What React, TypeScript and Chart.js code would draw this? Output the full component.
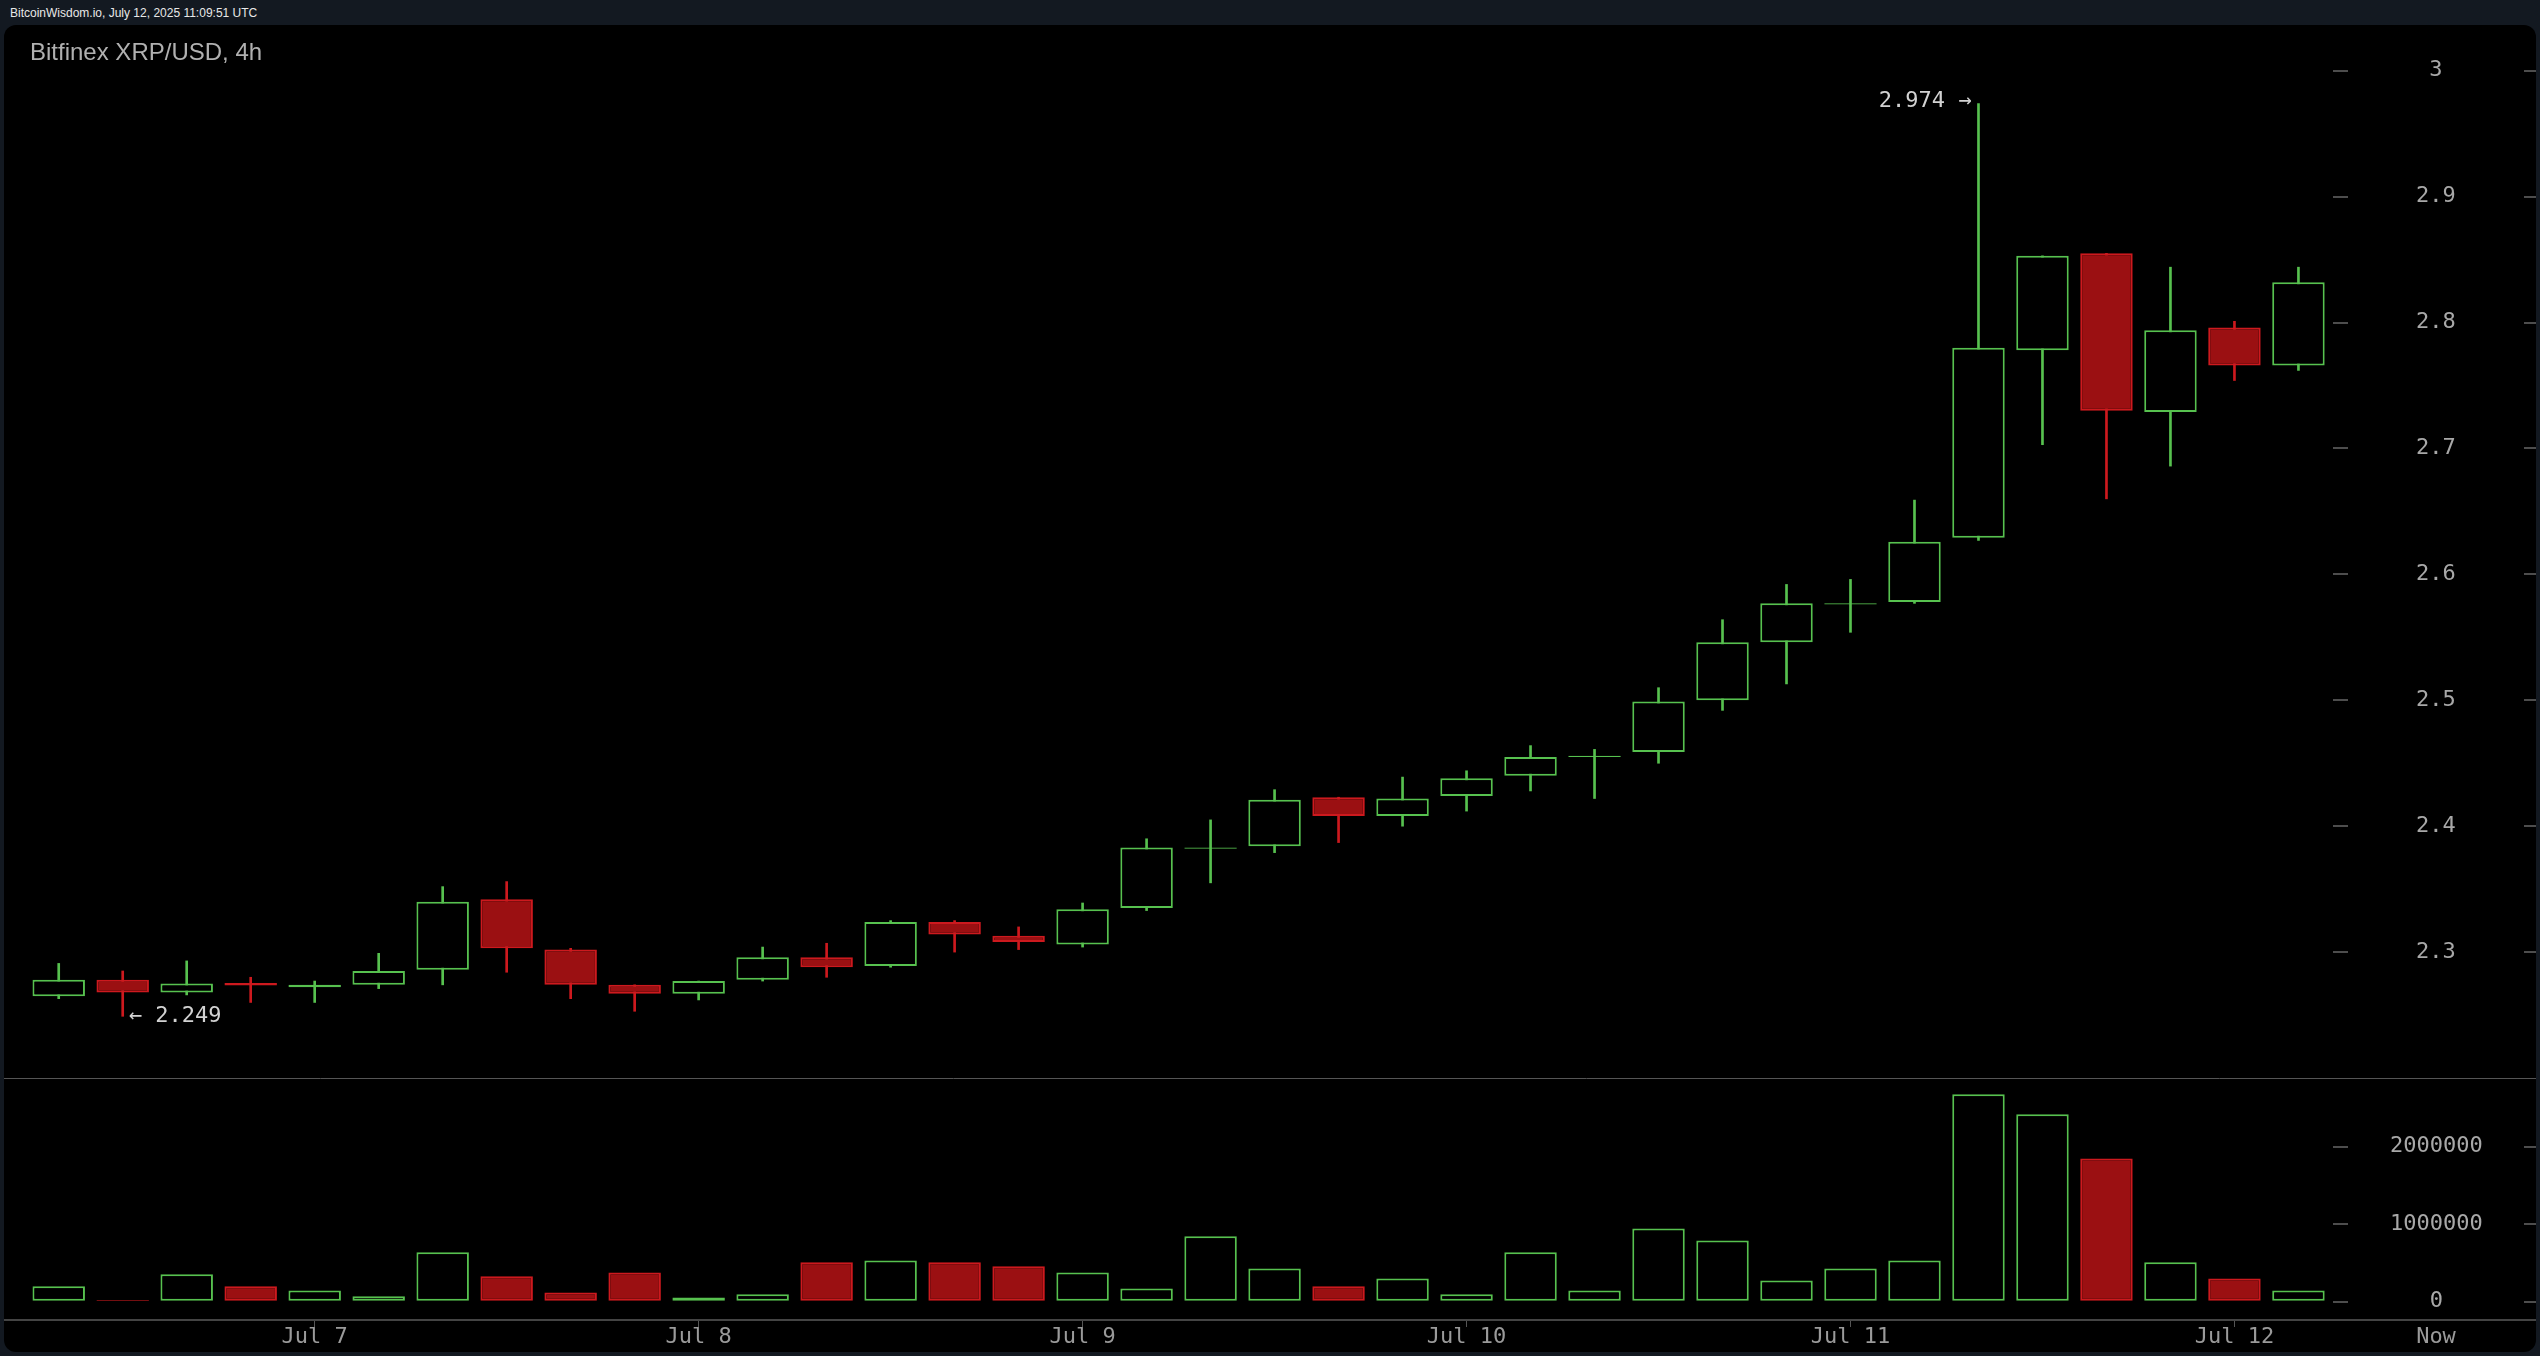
import { useEffect, useRef } from "react";
import { Chart, registerables } from "chart.js";

Chart.register(...registerables);

const HEADER = "BitcoinWisdom.io, July 12, 2025 11:09:51 UTC";
const TITLE = "Bitfinex XRP/USD, 4h";
const NOW_LABEL = "Now";

// 4h candles, oldest first
const OPEN = [
  2.265, 2.278, 2.268, 2.2755, 2.272, 2.274, 2.286, 2.342, 2.302, 2.274,
  2.267, 2.278, 2.296, 2.289, 2.324, 2.313, 2.306, 2.335, 2.382, 2.384,
  2.423, 2.408, 2.424, 2.44, 2.455, 2.459, 2.5, 2.546, 2.576, 2.578,
  2.629, 2.778, 2.855, 2.729, 2.796, 2.766,
];
const HIGH = [
  2.291, 2.285, 2.293, 2.28, 2.277, 2.299, 2.352, 2.356, 2.303, 2.274,
  2.277, 2.304, 2.307, 2.325, 2.325, 2.32, 2.339, 2.39, 2.405, 2.429,
  2.423, 2.439, 2.444, 2.464, 2.461, 2.51, 2.564, 2.592, 2.596, 2.659,
  2.974, 2.853, 2.855, 2.844, 2.801, 2.844,
];
const LOW = [
  2.263, 2.249, 2.266, 2.26, 2.26, 2.271, 2.274, 2.284, 2.263, 2.253,
  2.262, 2.277, 2.28, 2.288, 2.3, 2.302, 2.304, 2.333, 2.355, 2.379,
  2.387, 2.4, 2.412, 2.428, 2.422, 2.45, 2.492, 2.513, 2.554, 2.577,
  2.627, 2.703, 2.66, 2.686, 2.754, 2.762,
];
const CLOSE = [
  2.278, 2.268, 2.275, 2.2735, 2.274, 2.285, 2.34, 2.303, 2.274, 2.267,
  2.277, 2.296, 2.288, 2.324, 2.314, 2.308, 2.334, 2.383, 2.383, 2.421,
  2.408, 2.422, 2.438, 2.455, 2.456, 2.499, 2.546, 2.577, 2.577, 2.626,
  2.78, 2.853, 2.73, 2.794, 2.766, 2.832,
];
const VOLUME = [
  198000, 22000, 353000, 198000, 146000, 69000, 637000, 327000, 120000, 378000,
  55000, 95000, 508000, 533000, 508000, 456000, 378000, 172000, 843000, 430000,
  198000, 301000, 95000, 637000, 146000, 946000, 791000, 275000, 430000, 533000,
  2675000, 2417000, 1849000, 508000, 301000, 146000,
];

const DAY_TICK_INDEX = [4, 10, 16, 22, 28, 34];
const DAY_TICK_LABELS = ["Jul 7", "Jul 8", "Jul 9", "Jul 10", "Jul 11", "Jul 12"];
const PRICE_TICKS = [2.3, 2.4, 2.5, 2.6, 2.7, 2.8, 2.9, 3];
const VOLUME_TICKS = [0, 1000000, 2000000];

const GREEN = "#57c14f";
const RED_FILL = "#9b1012";
const RED_LINE = "#cd191e";
const MONO = '"DejaVu Sans Mono", "Liberation Mono", monospace';
const SANS = '"Liberation Sans", Arial, sans-serif';
const AXIS_W = 203;
const LABEL_CENTER = 103;

function zeroPad(s: any) {
  s.paddingTop = 0;
  s.paddingBottom = 0;
  s.paddingLeft = 0;
  s.paddingRight = 0;
}

const overlay = {
  id: "overlay",
  afterDraw(chart: any) {
    const { ctx, chartArea, scales } = chart;
    const x = scales.x;
    const y = scales.y;
    const yv = scales.yv;
    const W = chart.width;
    ctx.save();
    // panel separator
    ctx.strokeStyle = "#555";
    ctx.lineWidth = 1;
    ctx.beginPath();
    ctx.moveTo(0, Math.round(y.bottom) + 0.5);
    ctx.lineTo(W, Math.round(y.bottom) + 0.5);
    ctx.stroke();
    // time axis line
    ctx.strokeStyle = "#444";
    ctx.lineWidth = 2;
    ctx.beginPath();
    ctx.moveTo(0, chartArea.bottom + 1);
    ctx.lineTo(W, chartArea.bottom + 1);
    ctx.stroke();
    // right edge dashes
    ctx.strokeStyle = "#4d4d4d";
    ctx.lineWidth = 2;
    for (const sc of [y, yv]) {
      for (const t of sc.ticks) {
        const py = Math.round(sc.getPixelForValue(t.value));
        ctx.beginPath();
        ctx.moveTo(W - 12, py);
        ctx.lineTo(W, py);
        ctx.stroke();
      }
    }
    // title
    ctx.font = `24px ${SANS}`;
    ctx.fillStyle = "#b0b0b0";
    ctx.textAlign = "left";
    ctx.textBaseline = "alphabetic";
    ctx.fillText(TITLE, 26, 35);
    // high / low marks
    let hi = 0;
    let lo = 0;
    for (let i = 0; i < HIGH.length; i++) {
      if (HIGH[i] > HIGH[hi]) hi = i;
      if (LOW[i] < LOW[lo]) lo = i;
    }
    ctx.font = `22px ${MONO}`;
    ctx.fillStyle = "#d2d2d2";
    ctx.textBaseline = "middle";
    ctx.textAlign = "right";
    ctx.fillText(`${HIGH[hi].toFixed(3)} \u2192`, x.getPixelForValue(hi) - 7, y.getPixelForValue(HIGH[hi]) - 2);
    ctx.textAlign = "left";
    ctx.fillText(`\u2190 ${LOW[lo].toFixed(3)}`, x.getPixelForValue(lo) + 6, y.getPixelForValue(LOW[lo]));
    // "Now" label under the value axis
    ctx.fillStyle = "#9a9a9a";
    ctx.textAlign = "center";
    ctx.fillText(NOW_LABEL, y.left + LABEL_CENTER, chartArea.bottom + 18);
    ctx.restore();
  },
};

export default function App() {
  const ref = useRef<HTMLCanvasElement>(null);

  useEffect(() => {
    const idx = OPEN.map((_, i) => i);
    const up = idx.map((i) => CLOSE[i] >= OPEN[i]);
    const lineCol = idx.map((i) => (up[i] ? GREEN : RED_LINE));
    const fillCol = idx.map((i) => (up[i] ? "#000" : RED_FILL));

    const chart = new Chart(ref.current as HTMLCanvasElement, {
      type: "bar",
      data: {
        datasets: [
          {
            label: "body",
            data: idx.map((i) => ({ x: i, y: [OPEN[i], CLOSE[i]] })) as any,
            xAxisID: "x",
            yAxisID: "y",
            backgroundColor: fillCol,
            borderColor: lineCol,
            borderWidth: 2,
            borderSkipped: false,
            grouped: false,
            categoryPercentage: 1,
            barPercentage: 0.82,
          },
          {
            label: "wick",
            data: idx.map((i) => ({ x: i, y: [LOW[i], HIGH[i]] })) as any,
            xAxisID: "x",
            yAxisID: "y",
            backgroundColor: lineCol,
            borderWidth: 0,
            grouped: false,
            barThickness: 2,
          },
          {
            label: "volume",
            data: idx.map((i) => ({ x: i, y: VOLUME[i] })) as any,
            xAxisID: "x",
            yAxisID: "yv",
            backgroundColor: fillCol,
            borderColor: lineCol,
            borderWidth: 2,
            borderSkipped: false,
            grouped: false,
            categoryPercentage: 1,
            barPercentage: 0.82,
          },
        ] as any,
      },
      options: {
        responsive: false,
        animation: false,
        events: [],
        layout: { padding: { top: 8, left: 0, right: 0, bottom: 0 } },
        plugins: {
          legend: { display: false },
          tooltip: { enabled: false },
          title: { display: false },
        },
        scales: {
          x: {
            type: "linear",
            min: -0.855,
            max: 35.54,
            bounds: "data",
            offset: false,
            afterBuildTicks: (s: any) => {
              s.ticks = DAY_TICK_INDEX.map((v) => ({ value: v }));
            },
            afterFit: (s: any) => {
              s.height = 33;
              zeroPad(s);
            },
            ticks: {
              autoSkip: false,
              maxRotation: 0,
              minRotation: 0,
              padding: 0,
              color: "#9a9a9a",
              font: { family: MONO, size: 22, lineHeight: 0.9 },
              callback: (v: any) => DAY_TICK_LABELS[DAY_TICK_INDEX.indexOf(Number(v))] ?? "",
            },
            grid: { drawOnChartArea: false, drawTicks: true, tickLength: 8, color: "#555", lineWidth: 1, offset: false },
            border: { display: false },
          },
          y: {
            type: "linear",
            position: "right",
            stack: "panels",
            stackWeight: 1045,
            min: 2.2,
            max: 3.03,
            bounds: "data",
            afterBuildTicks: (s: any) => {
              s.ticks = PRICE_TICKS.map((v) => ({ value: v }));
            },
            afterFit: (s: any) => {
              s.width = AXIS_W;
              zeroPad(s);
            },
            ticks: {
              autoSkip: false,
              crossAlign: "center",
              padding: 68,
              color: "#a8a8a8",
              font: { family: MONO, size: 22 },
              callback: (v: any) => String(v),
            },
            grid: { drawOnChartArea: false, drawTicks: true, tickLength: 15, color: "#4d4d4d", lineWidth: 2 },
            border: { display: false },
          },
          yv: {
            type: "linear",
            position: "right",
            stack: "panels",
            stackWeight: 241,
            min: -223000,
            max: 2886000,
            bounds: "data",
            afterBuildTicks: (s: any) => {
              s.ticks = VOLUME_TICKS.map((v) => ({ value: v }));
            },
            afterFit: (s: any) => {
              s.width = AXIS_W;
              zeroPad(s);
            },
            ticks: {
              autoSkip: false,
              crossAlign: "center",
              padding: 42,
              color: "#a8a8a8",
              font: { family: MONO, size: 22 },
              callback: (v: any) => String(v),
            },
            grid: { drawOnChartArea: false, drawTicks: true, tickLength: 15, color: "#4d4d4d", lineWidth: 2 },
            border: { display: false },
          },
        } as any,
      },
      plugins: [overlay],
    });
    return () => chart.destroy();
  }, []);

  return (
    <div
      style={{
        position: "fixed",
        left: 0,
        top: 0,
        width: 2540,
        height: 1356,
        background: "#131921",
        overflow: "hidden",
      }}
    >
      <div
        style={{
          position: "absolute",
          left: 10,
          top: 0,
          height: 25,
          lineHeight: "26px",
          color: "#e8e8e8",
          fontFamily: SANS,
          fontSize: 12,
          whiteSpace: "nowrap",
        }}
      >
        {HEADER}
      </div>
      <div
        style={{
          position: "absolute",
          left: 4,
          top: 25,
          width: 2532,
          height: 1327,
          background: "#000",
          borderRadius: 12,
          overflow: "hidden",
        }}
      >
        <canvas ref={ref} width={2532} height={1327} style={{ display: "block" }} />
      </div>
    </div>
  );
}
